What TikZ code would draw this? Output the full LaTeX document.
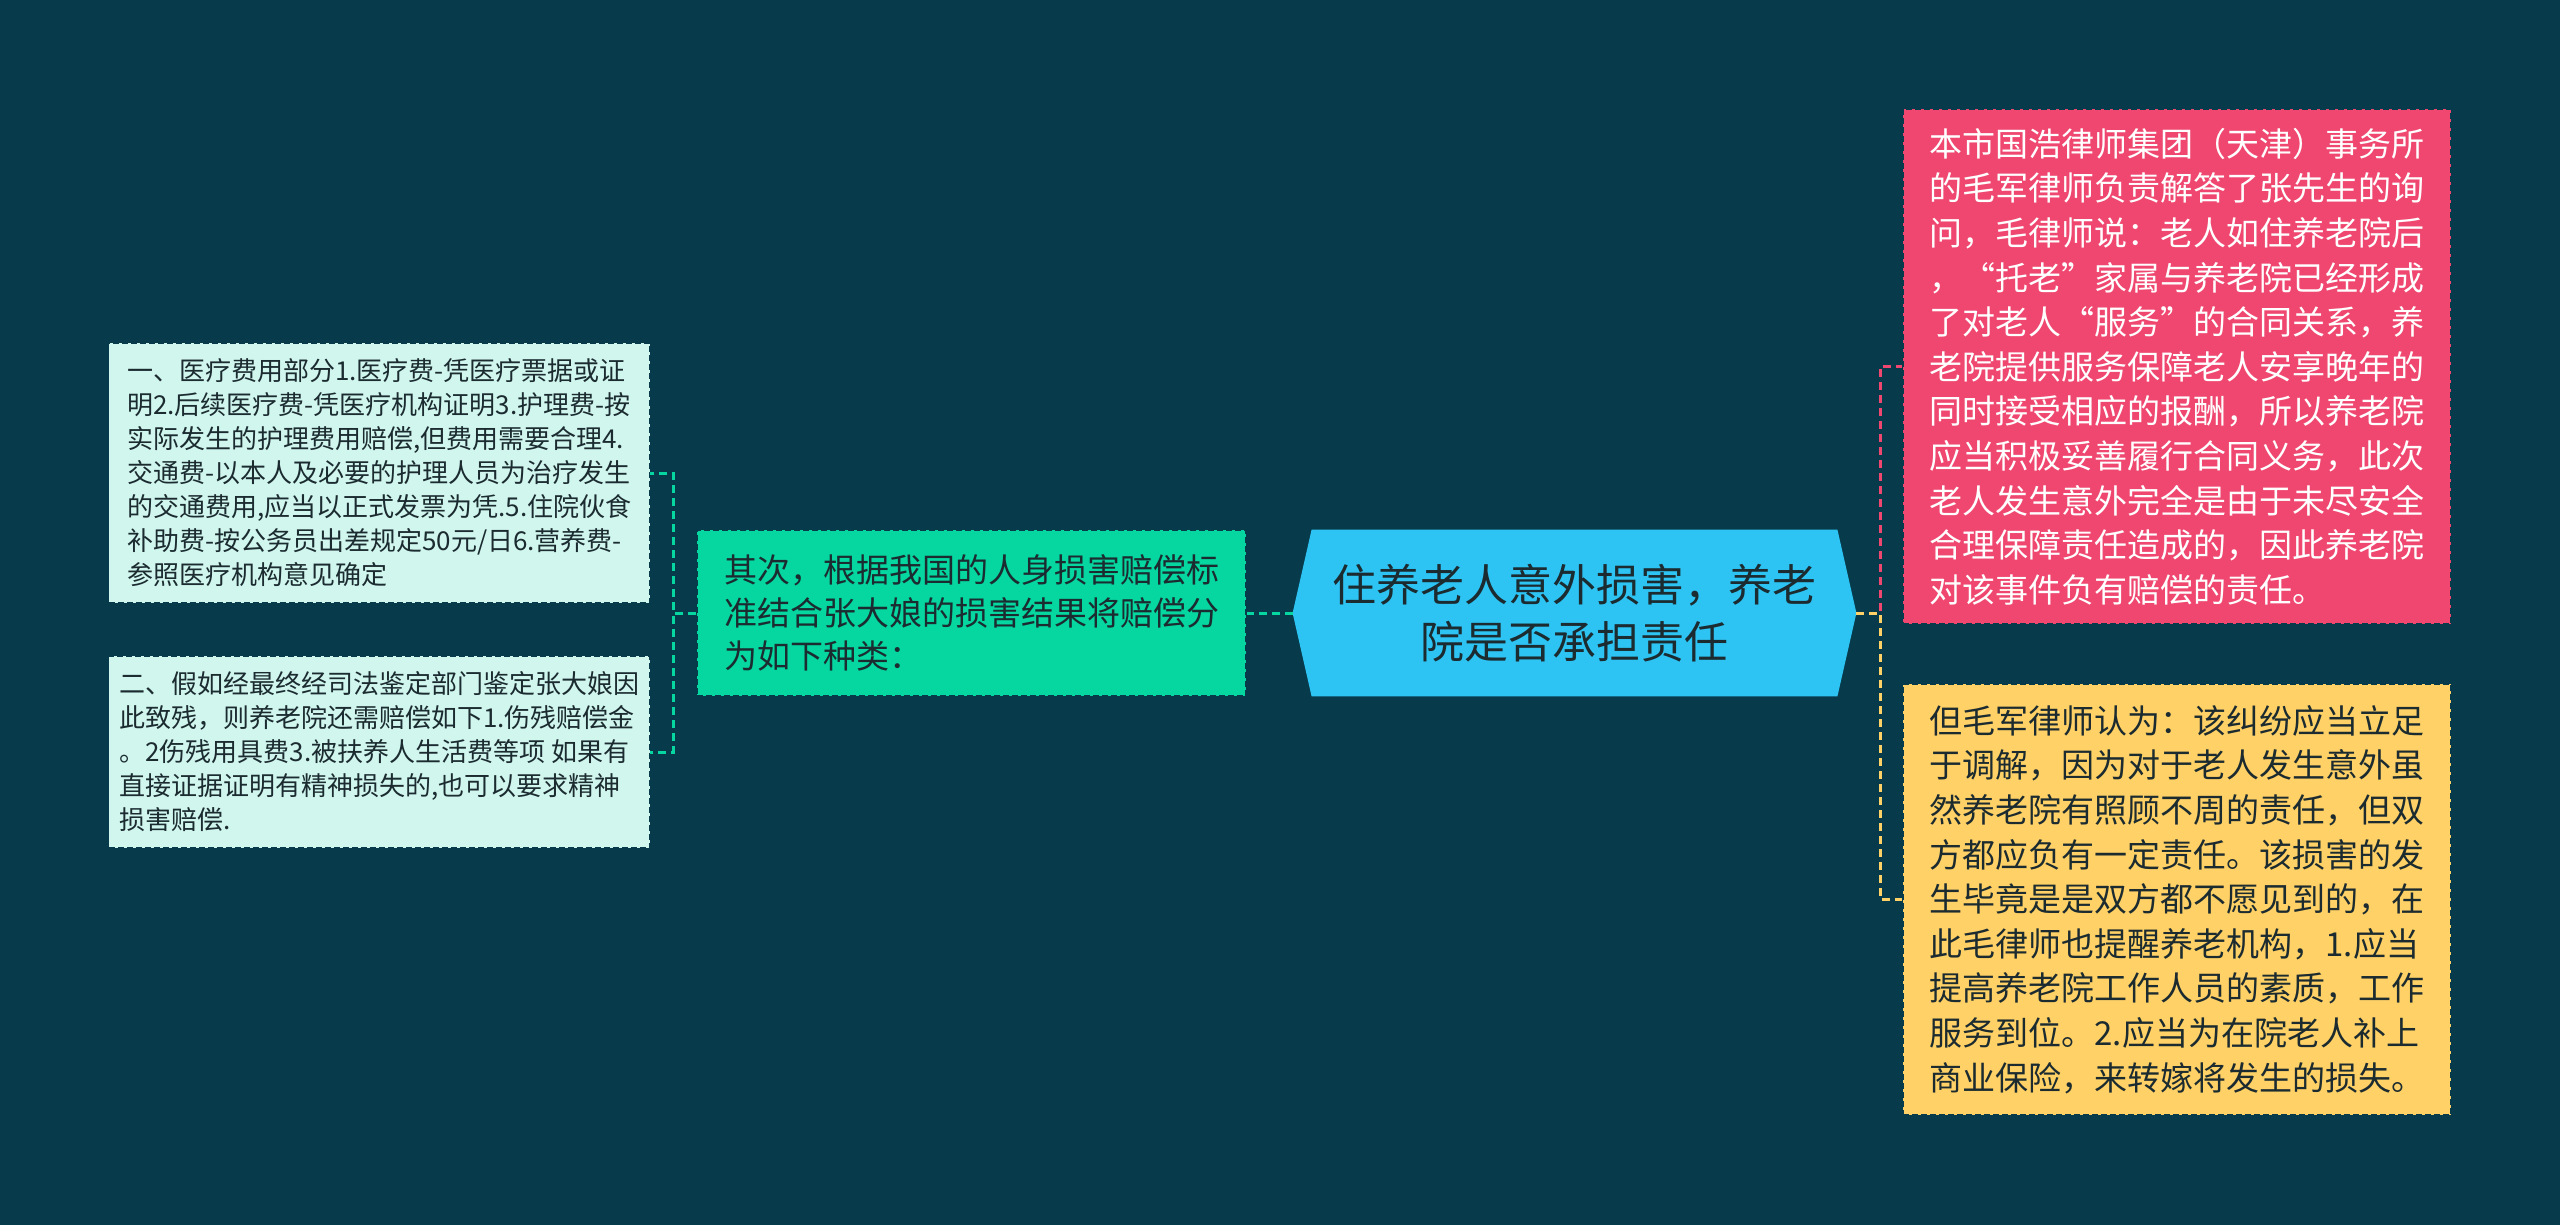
\documentclass[tikz,border=0pt]{standalone}
\usepackage{fontspec}
\setmainfont{Noto Sans CJK SC}
\usetikzlibrary{positioning, backgrounds}
\definecolor{bgcol}{HTML}{073B4C}
\definecolor{topicfill}{HTML}{2DC4F4}
\definecolor{greenbox}{HTML}{06D6A0}
\definecolor{leaffill}{HTML}{D0F6EE}
\definecolor{pinkbox}{HTML}{EF476F}
\definecolor{yellowbox}{HTML}{FFD166}
\definecolor{textdark}{HTML}{1B2B30}
\tikzstyle{topic} = [rectangle, minimum width=262.5pt, minimum height=83pt, align=center, text=textdark, font=\fontsize{22}{28.6}\selectfont]
\tikzstyle{statement} = [rectangle, minimum width=274.5pt, minimum height=83pt, align=left, draw=bgcol, line width=0.6pt, dash pattern=on 3pt off 1.5pt, fill=greenbox, text=textdark, font=\fontsize{16.5}{21.5}\selectfont]
\tikzstyle{detail} = [rectangle, minimum width=270.5pt, align=left, draw=bgcol, line width=0.6pt, dash pattern=on 3pt off 1.5pt, fill=leaffill, text=textdark, font=\fontsize{13}{17}\selectfont]
\tikzstyle{note} = [rectangle, minimum width=274pt, align=left, draw=bgcol, line width=0.6pt, dash pattern=on 3pt off 1.5pt, font=\fontsize{16.5}{22.3}\selectfont]
\tikzstyle{edge} = [line width=1.5pt, dash pattern=on 4pt off 2.5pt]

\begin{document}
\begin{tikzpicture}[x=1pt, y=-1pt, node distance=23pt]
\useasboundingbox (0,0) rectangle (1280,612.5);

\node (0) [topic] at (787.25,306.5) {住养老人意外损害，养老\\院是否承担责任};
\node (1) [statement, left=32.5pt of 0] {其次，根据我国的人身损害赔偿标\\准结合张大娘的损害结果将赔偿分\\为如下种类：};
\node (2) [detail, minimum height=130pt, left=of 1, yshift=70pt] {一、医疗费用部分1.医疗费-凭医疗票据或证\\明2.后续医疗费-凭医疗机构证明3.护理费-按\\实际发生的护理费用赔偿,但费用需要合理4.\\交通费-以本人及必要的护理人员为治疗发生\\的交通费用,应当以正式发票为凭.5.住院伙食\\补助费-按公务员出差规定50元/日6.营养费-\\参照医疗机构意见确定};
\node (3) [detail, minimum height=96pt, left=of 1, yshift=-69.5pt] {二、假如经最终经司法鉴定部门鉴定张大娘因\\此致残，则养老院还需赔偿如下1.伤残赔偿金\\。2伤残用具费3.被扶养人生活费等项 如果有\\直接证据证明有精神损失的,也可以要求精神\\损害赔偿.};
\node (4) [note, fill=pinkbox, text=white, minimum height=257.5pt, right=32.5pt of 0, yshift=123.25pt] {本市国浩律师集团（天津）事务所\\的毛军律师负责解答了张先生的询\\问，毛律师说：老人如住养老院后\\，“托老”家属与养老院已经形成\\了对老人“服务”的合同关系，养\\老院提供服务保障老人安享晚年的\\同时接受相应的报酬，所以养老院\\应当积极妥善履行合同义务，此次\\老人发生意外完全是由于未尽安全\\合理保障责任造成的，因此养老院\\对该事件负有赔偿的责任。};
\node (5) [note, fill=yellowbox, text=textdark, minimum height=215.5pt, right=32.5pt of 0, yshift=-143.25pt] {但毛军律师认为：该纠纷应当立足\\于调解，因为对于老人发生意外虽\\然养老院有照顾不周的责任，但双\\方都应负有一定责任。该损害的发\\生毕竟是是双方都不愿见到的，在\\此毛律师也提醒养老机构，1.应当\\提高养老院工作人员的素质，工作\\服务到位。2.应当为在院老人补上\\商业保险，来转嫁将发生的损失。};

\coordinate (0w) at ([xshift=-9.5pt]0.west);
\coordinate (0e) at ([xshift=9.5pt]0.east);

\begin{scope}[on background layer]
\fill [bgcol] (0,0) rectangle (1280,612.5);
\fill [topicfill] (0.north west) -- (0.north east) -- (0e) -- (0.south east) -- (0.south west) -- (0w) -- cycle;
\end{scope}

\draw [edge, greenbox] (0w) -- (1.east);
\draw [edge, greenbox] (1.west) -- ++(-11.5pt,0) |- (2.east);
\draw [edge, greenbox] (1.west) -- ++(-11.5pt,0) |- (3.east);
\draw [edge, pinkbox] (0e) -- ++(12pt,0) |- (4.west);
\draw [edge, yellowbox] (0e) -- ++(12pt,0) |- (5.west);

\end{tikzpicture}
\end{document}
